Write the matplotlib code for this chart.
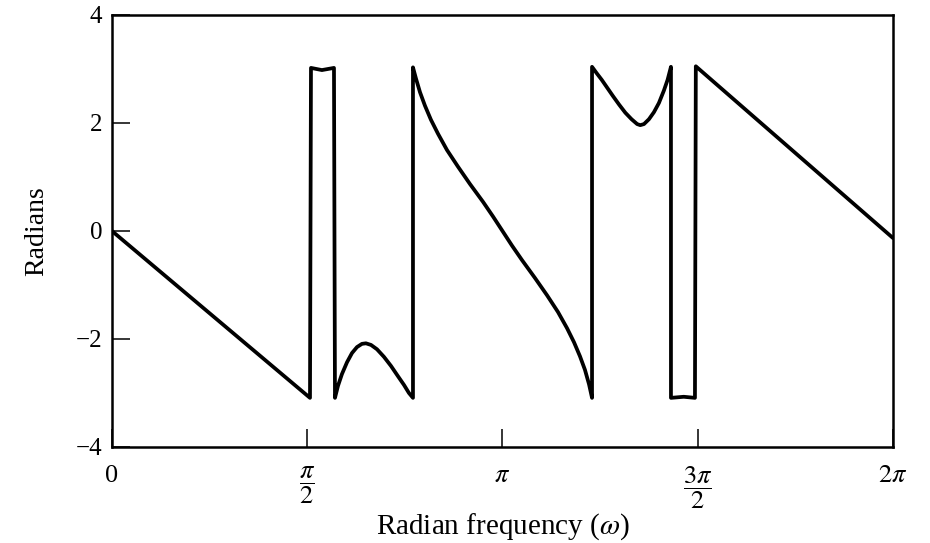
import numpy as np
import matplotlib.pyplot as plt

plt.rcParams['font.family'] = ['Liberation Serif', 'DejaVu Serif']
plt.rcParams['mathtext.fontset'] = 'stix'

# principal value of the phase (omega in rad)
omega = [0.000, 1.593,
         # narrow pulse up near pi/2
         1.601, 1.689, 1.786,
         # first hump
         1.794, 1.818, 1.850, 1.891, 1.931, 1.971, 2.011, 2.043,
         2.084, 2.132, 2.188, 2.245, 2.301, 2.349, 2.389, 2.4215,
         # middle branch through pi
         2.4215, 2.446, 2.478, 2.518, 2.566, 2.623, 2.695, 2.784,
         2.880, 2.985, 3.065, 3.1416, 3.218, 3.299, 3.403, 3.500,
         3.588, 3.661, 3.717, 3.765, 3.805, 3.838, 3.862,
         # second hump
         3.862, 3.900, 3.940, 3.982, 4.030, 4.080, 4.130, 4.180,
         4.225, 4.250, 4.280, 4.320, 4.360, 4.400, 4.440, 4.470, 4.497,
         # narrow pulse down near 3pi/2
         4.497, 4.600, 4.690,
         4.697, 6.283]
phase = [0.00, -3.09,
         3.02, 2.98, 3.02,
         -3.09, -2.87, -2.65, -2.43, -2.26, -2.15, -2.09, -2.08,
         -2.11, -2.19, -2.33, -2.50, -2.69, -2.85, -3.00, -3.09,
         3.03, 2.82, 2.57, 2.32, 2.06, 1.80, 1.50, 1.19,
         0.87, 0.54, 0.27, 0.00, -0.27, -0.54, -0.87, -1.19,
         -1.50, -1.80, -2.06, -2.32, -2.57, -2.84, -3.09,
         3.04, 2.92, 2.80, 2.66, 2.50, 2.34, 2.19, 2.07,
         1.98, 1.96, 1.98, 2.07, 2.20, 2.37, 2.60, 2.80, 3.04,
         -3.09, -3.07, -3.09,
         3.05, -0.13]

x_ticks = [0, np.pi / 2, np.pi, 3 * np.pi / 2, 2 * np.pi]
x_labels = ['0', r'$\dfrac{\pi}{2}$', r'$\pi$', r'$\dfrac{3\pi}{2}$', r'$2\pi$']
y_ticks = [-4, -2, 0, 2, 4]
y_labels = ['\u22124', '\u22122', '0', '2', '4']

fig = plt.figure(figsize=(9.3, 5.43), dpi=100)
ax = fig.add_axes([0.1204, 0.1768, 0.8398, 0.7956])

ax.plot(omega, phase, color='black', linewidth=2.7,
        solid_joinstyle='round', solid_capstyle='round')

ax.set_xlim(0, 2 * np.pi)
ax.set_ylim(-4, 4)
ax.set_xticks(x_ticks)
ax.set_xticklabels(x_labels, fontsize=19)
ax.set_yticks(y_ticks)
ax.set_yticklabels(y_labels, fontsize=18)
ax.tick_params(direction='in', length=13, width=1.1)
ax.tick_params(axis='x', pad=13)
ax.tick_params(axis='y', pad=7)

for s in ax.spines.values():
    s.set_linewidth(1.8)

ax.set_xlabel(r'Radian frequency ($\omega$)', fontsize=21, labelpad=0)
ax.set_ylabel('Radians', fontsize=20)
ax.yaxis.set_label_coords(-0.08, 0.5)

fig.savefig('out.png', dpi=100)
